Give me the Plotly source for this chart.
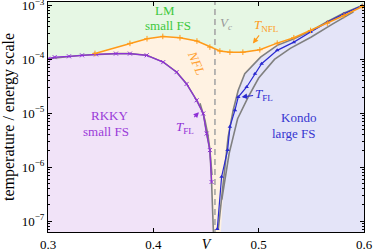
import plotly.graph_objects as go

# ---- data ----
V_nfl = [0.3446, 0.3778, 0.394, 0.409, 0.4253, 0.4414, 0.4537, 0.4632, 0.4727, 0.485, 0.5011, 0.5176, 0.5334, 0.5493, 0.5652, 0.581, 0.5984]
T_nfl = [1.29e-4, 1.98e-4, 2.42e-4, 2.67e-4, 2.52e-4, 2.19e-4, 1.69e-4, 1.43e-4, 1.36e-4, 1.36e-4, 1.51e-4, 2.0e-4, 2.52e-4, 3.44e-4, 4.71e-4, 6.53e-4, 9.57e-4]

V_rkky = [0.3, 0.3063, 0.3199, 0.3323, 0.3456, 0.3645, 0.3778, 0.3937, 0.4094, 0.4221, 0.4316, 0.4411, 0.4474, 0.4506, 0.4537, 0.4553]
T_rkky = [1.03e-4, 1.10e-4, 1.14e-4, 1.19e-4, 1.24e-4, 1.28e-4, 1.28e-4, 1.19e-4, 8.9e-5, 5.8e-5, 3.5e-5, 1.74e-5, 9.9e-6, 4.2e-6, 2.07e-6, 5.3e-7]

V_kondo = [0.4607, 0.4648, 0.4705, 0.4727, 0.4775, 0.4806, 0.4886, 0.4965, 0.5028, 0.5176, 0.5334, 0.5493, 0.5652, 0.581, 0.5984]
T_kondo = [7.1e-8, 6.6e-7, 2.07e-6, 5.6e-6, 1.14e-5, 2.0e-5, 3.07e-5, 5.4e-5, 8.3e-5, 1.47e-4, 2.09e-4, 3.21e-4, 4.91e-4, 7.0e-4, 1.0e-3]

# T_FL crossover curves (gray)
V_flA = [0.3, 0.3323, 0.3645, 0.3778, 0.3937, 0.4094, 0.4221, 0.4316, 0.4411, 0.4474, 0.4506, 0.4537, 0.4553, 0.4572]
T_flA = [1.03e-4, 1.19e-4, 1.28e-4, 1.28e-4, 1.19e-4, 8.9e-5, 5.8e-5, 3.5e-5, 1.74e-5, 9.9e-6, 4.2e-6, 2.07e-6, 5.3e-7, 5.0e-8]
V_flB = [0.4443, 0.449, 0.4519, 0.4537, 0.4557]
T_flB = [1.53e-5, 7.4e-6, 3.9e-6, 2.07e-6, 7.1e-7]
V_flC = [0.4616, 0.4673, 0.4695, 0.471, 0.4758, 0.4806, 0.4868, 0.5018, 0.5176, 0.5334, 0.55, 0.565, 0.58, 0.5984]
T_flC = [6.8e-8, 6.6e-7, 2.07e-6, 3.6e-6, 1.14e-5, 2.67e-5, 5.4e-5, 1.1e-4, 1.82e-4, 2.42e-4, 3.39e-4, 5.0e-4, 7.1e-4, 1.0e-3]
V_flD = [0.465, 0.472, 0.48, 0.49, 0.50, 0.515, 0.53, 0.55, 0.57, 0.59]
T_flD = [2.5e-7, 1.8e-6, 7.9e-6, 2.0e-5, 4.5e-5, 1.0e-4, 1.6e-4, 2.6e-4, 4.5e-4, 7.6e-4]

V_c = 0.4585
y_ticks = [1e-7, 1e-6, 1e-5, 1e-4, 1e-3]
y_ticktext = ["10<sup>−7</sup>", "10<sup>−6</sup>", "10<sup>−5</sup>", "10<sup>−4</sup>", "10<sup>−3</sup>"]
x_ticks = [0.3, 0.4, 0.5, 0.6]
x_ticktext = ["0.3", "0.4", "0.5", "0.6"]

# ---- style ----
FONT = "Liberation Serif"
C_GREEN_BG = "#e6f7e4"
C_PEACH = "#fff2e2"
C_PURPLE_BG = "#f1e3f8"
C_BLUE_BG = "#e4e4f8"
C_ORANGE = "#ff9a18"
C_PURPLE = "#8e2fd6"
C_BLUE = "#2a2ad0"
C_GRAY = "#808080"
LOW = 1e-8
TOP = 10 ** -2.935

fig = go.Figure()

# filled regions
fig.add_trace(go.Scatter(x=V_nfl + [0.6, 0.6, V_nfl[0]], y=T_nfl + [T_nfl[-1], LOW, LOW],
                         fill="toself", fillcolor=C_PEACH, mode="none", hoverinfo="skip"))
fig.add_trace(go.Scatter(x=V_flA + [0.3], y=T_flA[:-1] + [LOW, LOW],
                         fill="toself", fillcolor=C_PURPLE_BG, mode="none", hoverinfo="skip"))
fig.add_trace(go.Scatter(x=V_flC + [0.6, 0.6], y=[LOW] + T_flC[1:] + [T_flC[-1], LOW],
                         fill="toself", fillcolor=C_BLUE_BG, mode="none", hoverinfo="skip"))

# gray T_FL curves
for vx, ty in [(V_flA, T_flA), (V_flB, T_flB), (V_flC, T_flC), (V_flD, T_flD)]:
    fig.add_trace(go.Scatter(x=vx, y=ty, mode="lines", line=dict(color=C_GRAY, width=1.6), hoverinfo="skip"))

# Vc dashed line
fig.add_trace(go.Scatter(x=[V_c, V_c], y=[LOW, TOP], mode="lines",
                         line=dict(color="#a6a6a6", width=1.6, dash="6px,4px"), hoverinfo="skip"))

# main curves
fig.add_trace(go.Scatter(x=V_rkky, y=T_rkky, mode="lines+markers",
                         line=dict(color=C_PURPLE, width=1.2),
                         marker=dict(symbol="x-thin", size=4, line=dict(color=C_PURPLE, width=1))))
fig.add_trace(go.Scatter(x=V_kondo, y=T_kondo, mode="lines+markers",
                         line=dict(color=C_BLUE, width=1.2),
                         marker=dict(symbol="triangle-up", size=4, color=C_BLUE)))
fig.add_trace(go.Scatter(x=V_nfl, y=T_nfl, mode="lines+markers",
                         line=dict(color=C_ORANGE, width=1.5),
                         marker=dict(symbol="cross-thin", size=4, line=dict(color=C_ORANGE, width=1))))

def txt(x, y, s, color, size=13, angle=0):
    fig.add_annotation(x=x, y=y, text=s, showarrow=False, textangle=angle,
                       font=dict(family=FONT, size=size, color=color), xanchor="center", yanchor="middle")

txt(0.411, -3.093, "LM", "#3cc83c")
txt(0.4139, -3.37, "small FS", "#3cc83c")
txt(0.3588, -5.037, "RKKY", "#9a3ad8")
txt(0.355, -5.333, "small FS", "#9a3ad8")
txt(0.5382, -5.074, "Kondo", "#3535d0")
txt(0.5334, -5.37, "large FS", "#3535d0")
txt(0.4414, -4.07, "<i>NFL</i>", "#ffa030", angle=67)
txt(0.4689, -3.333, "<i>V</i><sub><i>c</i></sub>", "#999999")

def arr(x, y, ax, ay, s, color):
    fig.add_annotation(x=x, y=y, ax=ax, ay=ay, text=s, showarrow=True, arrowhead=2, arrowsize=1,
                       arrowwidth=1.1, arrowcolor=color, standoff=0,
                       font=dict(family=FONT, size=13, color=color))

arr(0.4945, -3.704, 14, -18, "<i>T</i><sub>NFL</sub>", C_ORANGE)
arr(0.4433, -4.98, -14, 15, "<i>T</i><sub>FL</sub>", C_PURPLE)
arr(0.4838, -4.70, 22, -3, "<i>T</i><sub>FL</sub>", C_BLUE)

fig.update_layout(
    width=374, height=252, margin=dict(l=48, r=10, t=2, b=20),
    paper_bgcolor="white", plot_bgcolor=C_GREEN_BG, showlegend=False,
    font=dict(family=FONT, size=13, color="black"),
)
fig.update_xaxes(range=[0.3, 0.6], tickvals=x_ticks, ticktext=x_ticktext,
                 ticks="inside", ticklen=4, tickcolor="black", showline=True, linecolor="black",
                 linewidth=1, mirror="ticks", showgrid=False, zeroline=False,
                 title=dict(text="<i>V</i>", standoff=0, font=dict(size=14)), automargin=False)
fig.update_yaxes(type="log", range=[-7.204, -2.935], tickvals=y_ticks, ticktext=y_ticktext,
                 ticks="inside", ticklen=4, tickcolor="black", showline=True, linecolor="black",
                 linewidth=1, mirror="ticks", showgrid=False, zeroline=False, ticklabeloverflow="allow",
                 minor=dict(ticks="inside", ticklen=2, dtick="D1", tickcolor="black", showgrid=False),
                 title=dict(text="temperature / energy scale", standoff=4), automargin=False)

fig.write_html("out.html", config={"displayModeBar": False},
               post_script="document.body.style.margin='0';document.body.style.padding='0';")
